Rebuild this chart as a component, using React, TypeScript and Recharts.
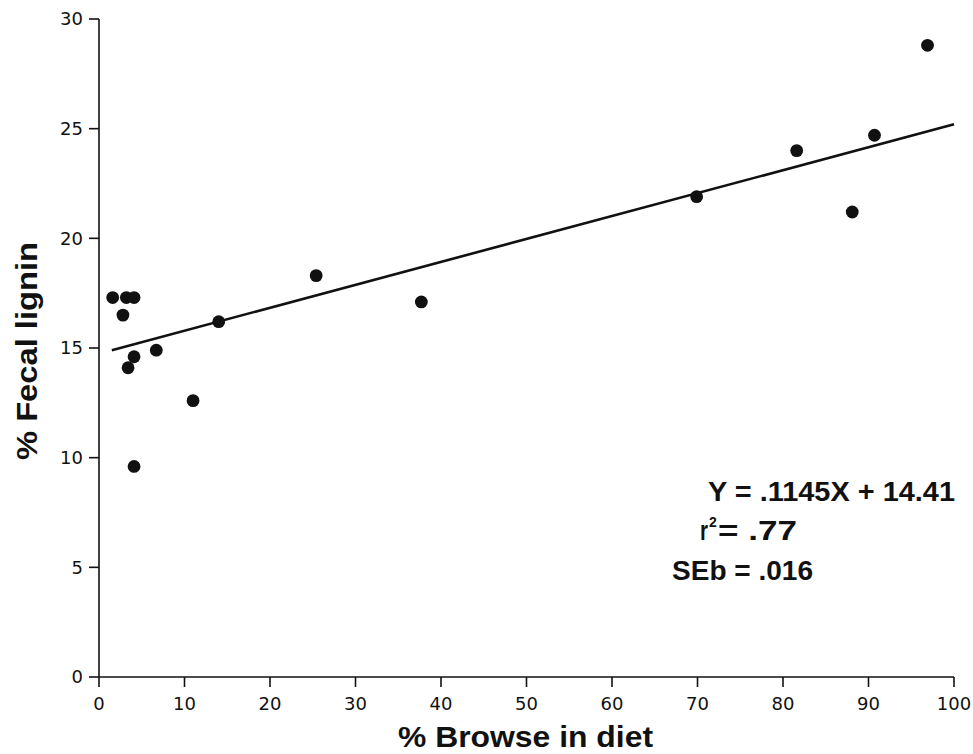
import {
  Customized,
  ReferenceLine,
  Scatter,
  ScatterChart,
  XAxis,
  YAxis,
} from "recharts";

// % browse in diet vs % fecal lignin
const browsePct = [1.6, 3.2, 4.1, 2.8, 4.1, 3.4, 6.7, 11.0, 14.0, 4.1, 25.4, 37.7, 69.9, 81.6, 88.1, 90.7, 96.9];
const ligninPct = [17.3, 17.3, 17.3, 16.5, 14.6, 14.1, 14.9, 12.6, 16.2, 9.6, 18.3, 17.1, 21.9, 24.0, 21.2, 24.7, 28.8];

// drawn regression line, end points as plotted
const fitX = [1.5, 100];
const fitY = [14.9, 25.2];

const xTicks = [0, 10, 20, 30, 40, 50, 60, 70, 80, 90, 100];
const yTicks = [0, 5, 10, 15, 20, 25, 30];

const points = browsePct.map((x, i) => ({ x, y: ligninPct[i] }));

const INK = "#111";
const FONT = "'Liberation Sans', Arial, sans-serif";
const TICK_FONT = "'DejaVu Sans', sans-serif";

function Annotations() {
  const title = { fontFamily: FONT, fontSize: 29, fontWeight: 700, fill: INK };
  const eq = { fontFamily: FONT, fontSize: 27, fontWeight: 700, fill: INK };
  return (
    <g>
      <text transform="translate(37 460) rotate(-90)" x={0} y={0} textLength={218}
        lengthAdjust="spacingAndGlyphs" style={title}>
        % Fecal lignin
      </text>
      <text x={398} y={747} textLength={255} lengthAdjust="spacingAndGlyphs" style={title}>
        % Browse in diet
      </text>
      <text x={708} y={501} textLength={247} lengthAdjust="spacingAndGlyphs" style={eq}>
        Y = .1145X + 14.41
      </text>
      <text x={700} y={540} textLength={8} lengthAdjust="spacingAndGlyphs" style={eq}>r</text>
      <text x={709} y={527} style={{ ...eq, fontSize: 14 }}>2</text>
      <text x={718} y={540} textLength={79} lengthAdjust="spacingAndGlyphs" style={eq}>
        = .77
      </text>
      <text x={672} y={580} textLength={141} lengthAdjust="spacingAndGlyphs" style={eq}>
        SEb = .016
      </text>
    </g>
  );
}

export default function App() {
  return (
    <div style={{ position: "absolute", left: 0, top: 0, background: "#fff" }}>
      <ScatterChart width={973} height={754} margin={{ top: 19, right: 19, bottom: 0, left: 0 }}>
        <XAxis
          type="number"
          dataKey="x"
          domain={[0, 100]}
          ticks={xTicks}
          interval={0}
          height={77}
          tickSize={10}
          tickMargin={10}
          axisLine={{ stroke: INK, strokeWidth: 1.6 }}
          tickLine={{ stroke: INK, strokeWidth: 1.6 }}
          tick={{ fill: INK, fontSize: 18, fontFamily: TICK_FONT }}
        />
        <YAxis
          type="number"
          dataKey="y"
          domain={[0, 30]}
          ticks={yTicks}
          interval={0}
          width={99}
          tickSize={10}
          tickMargin={6}
          axisLine={{ stroke: INK, strokeWidth: 1.6 }}
          tickLine={{ stroke: INK, strokeWidth: 1.6 }}
          tick={{ fill: INK, fontSize: 18, fontFamily: TICK_FONT }}
        />
        <ReferenceLine
          segment={[
            { x: fitX[0], y: fitY[0] },
            { x: fitX[1], y: fitY[1] },
          ]}
          stroke={INK}
          strokeWidth={2.6}
          ifOverflow="visible"
        />
        <Scatter
          data={points}
          fill={INK}
          isAnimationActive={false}
          shape={(p: any) => <circle cx={p.cx} cy={p.cy} r={6.4} fill={INK} />}
        />
        <Customized component={Annotations} />
      </ScatterChart>
    </div>
  );
}
